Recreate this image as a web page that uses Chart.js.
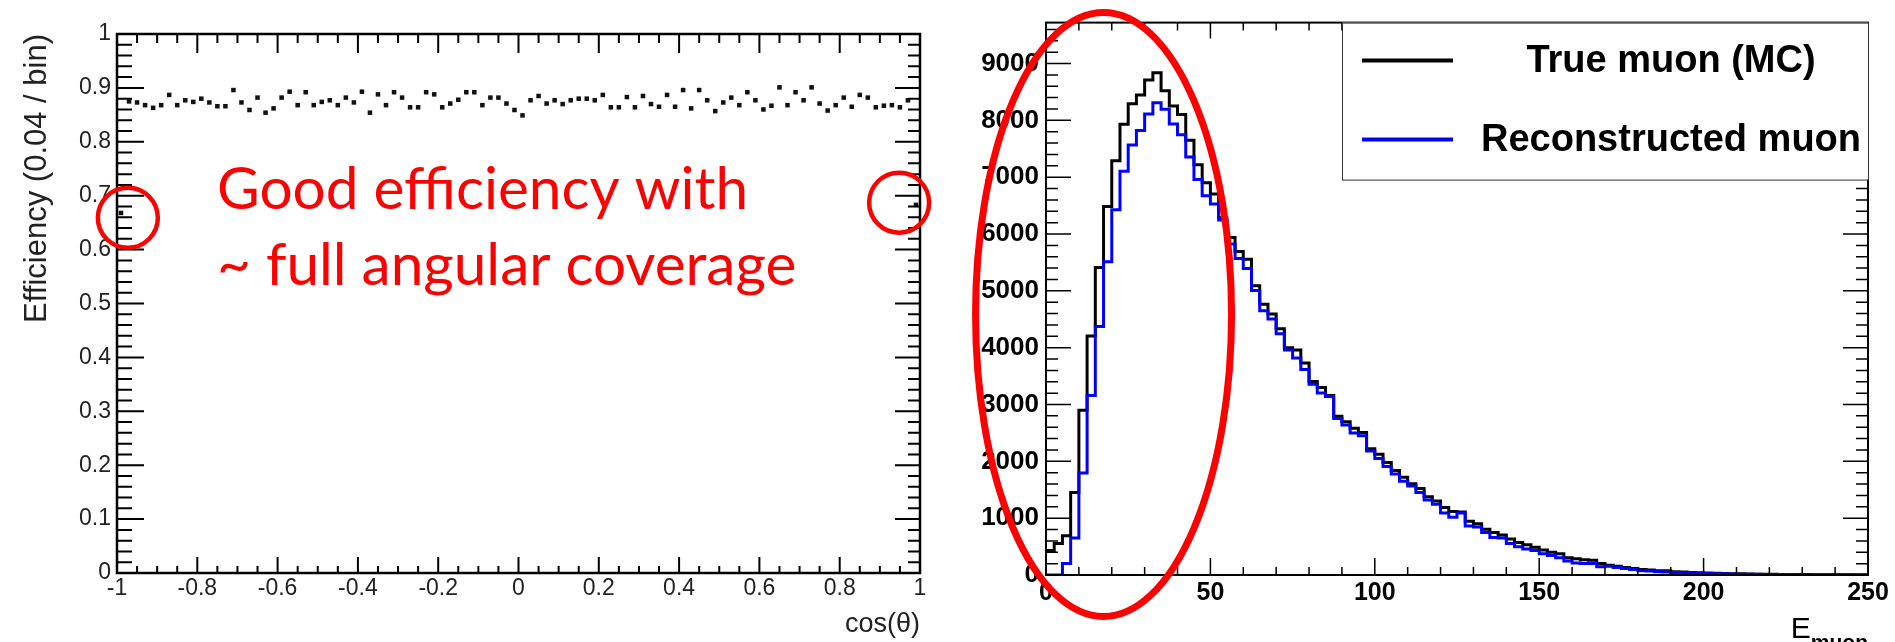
<!DOCTYPE html>
<html>
<head>
<meta charset="utf-8">
<title>Muon efficiency and energy</title>
<script src="https://cdn.jsdelivr.net/npm/chart.js@4/dist/chart.umd.min.js"></script>
<style>
  html, body { margin: 0; padding: 0; background: #fff; }
  .panel { position: absolute; top: 0; height: 642px; }
  #left-panel { left: 0; width: 960px; }
  #right-panel { left: 960px; width: 935px; }
</style>
</head>
<body>
<div class="panel" id="left-panel"><canvas id="effChart"></canvas></div>
<div class="panel" id="right-panel"><canvas id="energyChart"></canvas></div>
<script>
// efficiency vs cos(theta): 100 bins from -1 to 1
const cosMin = -1;
const cosMax = 1;
const cosBinWidth = 0.02;
const efficiency = [
  0.668, 0.875, 0.873, 0.868, 0.863, 0.868, 0.887, 0.868, 0.877, 0.874,
  0.880, 0.873, 0.866, 0.866, 0.896, 0.873, 0.859, 0.882, 0.854, 0.862,
  0.882, 0.893, 0.868, 0.892, 0.868, 0.874, 0.877, 0.868, 0.882, 0.873,
  0.893, 0.854, 0.888, 0.868, 0.892, 0.882, 0.864, 0.864, 0.892, 0.888,
  0.864, 0.871, 0.878, 0.892, 0.892, 0.868, 0.882, 0.882, 0.871, 0.859,
  0.849, 0.877, 0.885, 0.871, 0.877, 0.870, 0.877, 0.880, 0.880, 0.877,
  0.887, 0.864, 0.864, 0.883, 0.864, 0.885, 0.870, 0.865, 0.887, 0.865,
  0.896, 0.862, 0.896, 0.877, 0.857, 0.873, 0.882, 0.868, 0.892, 0.877,
  0.860, 0.867, 0.901, 0.868, 0.892, 0.877, 0.901, 0.871, 0.858, 0.868,
  0.882, 0.865, 0.887, 0.882, 0.864, 0.867, 0.868, 0.864, 0.877, 0.683
];

// muon energy: 100 bins of 2.5 from 0 to 250
const eMin = 0;
const eMax = 250;
const eBinWidth = 2.5;
const seriesLabels = ['True muon (MC)', 'Reconstructed muon'];
const trueMuon = [
  430, 556, 689, 1451, 2898, 4207, 5412, 6486, 7289, 7932,
  8293, 8448, 8712, 8838, 8523, 8253, 8104, 7650, 7220, 6904,
  6703, 6284, 5940, 5694, 5556, 5091, 4764, 4592, 4333, 4000,
  3960, 3731, 3404, 3300, 3157, 2795, 2698, 2583, 2508, 2221,
  2123, 1980, 1837, 1722, 1607, 1521, 1377, 1303, 1188, 1119,
  1107, 947, 901, 804, 746, 706, 632, 574, 534, 487,
  442, 401, 373, 305, 287, 270, 258, 201, 172, 155,
  132, 115, 98, 86, 74, 74, 55, 52, 45, 40,
  35, 30, 28, 24, 20, 18, 15, 13, 11, 10,
  9, 8, 7, 6, 6, 5, 4, 4, 3, 3
];
const recoMuon = [
  0, 0, 201, 649, 1796, 3157, 4373, 5510, 6428, 7105,
  7565, 7823, 8110, 8311, 8196, 7937, 7748, 7357, 6961, 6675,
  6526, 6245, 5825, 5567, 5395, 5005, 4649, 4506, 4247, 3960,
  3817, 3616, 3357, 3202, 3139, 2755, 2640, 2497, 2450, 2181,
  2049, 1911, 1779, 1648, 1567, 1452, 1320, 1245, 1090, 1016,
  1090, 861, 844, 746, 660, 649, 556, 499, 459, 430,
  373, 344, 305, 246, 212, 201, 201, 143, 155, 132,
  115, 98, 74, 69, 57, 52, 45, 40, 35, 30,
  26, 22, 20, 18, 15, 13, 11, 10, 9, 8,
  7, 6, 5, 5, 4, 4, 3, 3, 2, 2
];
const energyMax = 9720;
const energyStep = 1000;

const effPoints = efficiency.map((v, i) => ({ x: cosMin + cosBinWidth * (i + 0.5), y: v }));

function histPoints(counts) {
    const pts = counts.map((v, i) => ({ x: eMin + eBinWidth * i, y: v }));
    pts.push({ x: eMin + eBinWidth * counts.length, y: counts[counts.length - 1] });
    return pts;
}

function fmt(v) {
    return String(Number(v.toFixed(2)));
}

// ROOT style frame with inward major/minor ticks on all four sides
const rootAxes = {
    id: 'rootAxes',
    afterDatasetsDraw(chart, args, o) {
        const { ctx, chartArea: a } = chart;
        const xs = chart.scales.x, ys = chart.scales.y;
        ctx.save();
        ctx.strokeStyle = '#000';
        ctx.lineWidth = o.tickWidth;
        ctx.beginPath();
        for (let k = 0; ; k++) {
            const v = xs.min + k * o.x.minor;
            if (v > xs.max + o.x.minor * 1e-6) break;
            const p = xs.getPixelForValue(v);
            const major = k % o.x.every === 0;
            ctx.moveTo(p, a.bottom);
            ctx.lineTo(p, a.bottom - (major ? o.x.bottom[0] : o.x.bottom[1]));
            ctx.moveTo(p, a.top);
            ctx.lineTo(p, a.top + (major ? o.x.top[0] : o.x.top[1]));
        }
        for (let k = 0; ; k++) {
            const v = ys.min + k * o.y.minor;
            if (v > ys.max + o.y.minor * 1e-6) break;
            const p = ys.getPixelForValue(v);
            const major = k % o.y.every === 0;
            ctx.moveTo(a.left, p);
            ctx.lineTo(a.left + (major ? o.y.left[0] : o.y.left[1]), p);
            ctx.moveTo(a.right, p);
            ctx.lineTo(a.right - (major ? o.y.right[0] : o.y.right[1]), p);
        }
        ctx.stroke();
        ctx.lineWidth = o.frameWidth;
        ctx.strokeRect(a.left, a.top, a.right - a.left, a.bottom - a.top);
        ctx.restore();
    }
};

// red remarks on the efficiency plot
const effNotes = {
    id: 'effNotes',
    afterDraw(chart) {
        const { ctx, chartArea: a, scales: { x, y } } = chart;
        ctx.save();
        ctx.fillStyle = '#ff0000';
        ctx.strokeStyle = '#ff0000';
        ctx.font = '58.5px Lato';
        ctx.textAlign = 'left';
        ctx.textBaseline = 'alphabetic';
        ctx.fillText('Good efficiency with', a.left + 100, a.top + 175);
        ctx.fillText('~ full angular coverage', a.left + 100, a.top + 251);
        ctx.lineWidth = 4.5;
        [[-0.973, 0.659], [0.948, 0.687]].forEach(([cx, cy]) => {
            ctx.beginPath();
            ctx.arc(x.getPixelForValue(cx), y.getPixelForValue(cy), 30, 0, Math.PI * 2);
            ctx.stroke();
        });
        ctx.restore();
    }
};

// legend box, E_muon axis title and the red ellipse on the energy plot
const energyNotes = {
    id: 'energyNotes',
    afterDraw(chart) {
        const { ctx, chartArea: a, scales: { x, y } } = chart;
        ctx.save();

        // legend
        const bx = a.right - 526, by = a.top, bw = 526, bh = 157;
        ctx.fillStyle = '#fff';
        ctx.fillRect(bx, by, bw, bh);
        ctx.strokeStyle = '#333';
        ctx.lineWidth = 1;
        ctx.strokeRect(bx + 0.5, by + 0.5, bw, bh);
        ctx.font = 'bold 38px "Liberation Sans", Arial, sans-serif';
        ctx.textAlign = 'center';
        ctx.textBaseline = 'alphabetic';
        chart.data.datasets.forEach((ds, i) => {
            const ly = by + 38 + i * 79;
            ctx.strokeStyle = ds.borderColor;
            ctx.lineWidth = 4;
            ctx.beginPath();
            ctx.moveTo(bx + 20, ly);
            ctx.lineTo(bx + 111, ly);
            ctx.stroke();
            ctx.fillStyle = '#000';
            ctx.fillText(ds.label, bx + 329, ly + 11);
        });

        // axis title with subscript
        ctx.fillStyle = '#000';
        ctx.textAlign = 'left';
        ctx.font = 'bold 21px "Liberation Sans", Arial, sans-serif';
        const subW = ctx.measureText('muon').width;
        ctx.font = '30px "Liberation Sans", Arial, sans-serif';
        const eW = ctx.measureText('E').width;
        ctx.fillText('E', a.right - subW - eW, a.bottom + 63);
        ctx.font = 'bold 21px "Liberation Sans", Arial, sans-serif';
        ctx.fillText('muon', a.right - subW, a.bottom + 74);

        // red ellipse round the low energy region
        ctx.strokeStyle = '#ff0000';
        ctx.lineWidth = 7;
        ctx.beginPath();
        ctx.ellipse(x.getPixelForValue(17.5), y.getPixelForValue(4584), 128, 302, 0, 0, Math.PI * 2);
        ctx.stroke();
        ctx.restore();
    }
};

const leftFont = '"Liberation Sans", Arial, sans-serif';

new Chart(document.getElementById('effChart'), {
    type: 'scatter',
    data: {
        datasets: [{
            data: effPoints,
            pointStyle: 'rect',
            pointRadius: 3.2,
            backgroundColor: '#111',
            borderWidth: 0
        }]
    },
    options: {
        responsive: true,
        maintainAspectRatio: false,
        animation: false,
        events: [],
        layout: { padding: { left: 0, top: 34, right: 40, bottom: 0 } },
        plugins: {
            legend: { display: false },
            tooltip: { enabled: false },
            rootAxes: {
                tickWidth: 2, frameWidth: 2.5,
                x: { minor: 0.05, every: 4, bottom: [16, 7], top: [19, 9] },
                y: { minor: 0.02, every: 5, left: [27, 15], right: [25, 12] }
            }
        },
        scales: {
            x: {
                type: 'linear', min: cosMin, max: cosMax,
                grid: { display: false, drawTicks: false },
                border: { display: false },
                ticks: {
                    stepSize: 0.2, padding: 2, autoSkip: false, maxRotation: 0,
                    color: '#222', font: { family: leftFont, size: 23 },
                    callback: v => fmt(v)
                },
                title: {
                    display: true, text: 'cos(θ)', align: 'end', color: '#222',
                    font: { family: leftFont, size: 27 }, padding: { top: 0, bottom: 1 }
                },
                afterFit: s => { s.height = 69; }
            },
            y: {
                type: 'linear', min: 0, max: 1,
                grid: { display: false, drawTicks: false },
                border: { display: false },
                ticks: {
                    stepSize: 0.1, padding: 6, autoSkip: false,
                    color: '#222', font: { family: leftFont, size: 23 },
                    callback: v => fmt(v)
                },
                title: {
                    display: true, text: 'Efficiency (0.04 / bin)', align: 'end', color: '#222',
                    font: { family: leftFont, size: 31 }, padding: { top: 19, bottom: 0 }
                },
                afterFit: s => { s.width = 117; }
            }
        }
    },
    plugins: [rootAxes, effNotes]
});

new Chart(document.getElementById('energyChart'), {
    type: 'line',
    data: {
        datasets: [
            {
                label: seriesLabels[0], data: histPoints(trueMuon),
                borderColor: '#000', borderWidth: 3, stepped: 'before',
                pointRadius: 0, fill: false, order: 2,
                borderJoinStyle: 'miter', borderCapStyle: 'butt'
            },
            {
                label: seriesLabels[1], data: histPoints(recoMuon),
                borderColor: '#0000ff', borderWidth: 3, stepped: 'before',
                pointRadius: 0, fill: false, order: 1,
                borderJoinStyle: 'miter', borderCapStyle: 'butt'
            }
        ]
    },
    options: {
        responsive: true,
        maintainAspectRatio: false,
        animation: false,
        events: [],
        layout: { padding: { left: 0, top: 11, right: 27, bottom: 0 } },
        plugins: {
            legend: { display: false },
            tooltip: { enabled: false },
            rootAxes: {
                tickWidth: 1.5, frameWidth: 2,
                x: { minor: 10, every: 5, bottom: [17, 8], top: [16, 8] },
                y: { minor: 200, every: 5, left: [25, 12], right: [25, 12] }
            }
        },
        scales: {
            x: {
                type: 'linear', min: eMin, max: eMax,
                grid: { display: false, drawTicks: false },
                border: { display: false },
                ticks: {
                    stepSize: 50, padding: 3, autoSkip: false, maxRotation: 0,
                    color: '#000', font: { family: leftFont, size: 25, weight: 'bold' },
                    callback: v => String(v)
                },
                afterFit: s => { s.height = 67; }
            },
            y: {
                type: 'linear', min: 0, max: energyMax,
                grid: { display: false, drawTicks: false },
                border: { display: false },
                ticks: {
                    padding: 7, autoSkip: false,
                    color: '#000', font: { family: leftFont, size: 26, weight: 'bold' },
                    callback: v => String(v)
                },
                // whole thousands only, the axis top is not a round number
                afterBuildTicks: s => {
                    const ticks = [];
                    for (let v = 0; v <= s.max; v += energyStep) ticks.push({ value: v });
                    s.ticks = ticks;
                },
                afterFit: s => { s.width = 86; }
            }
        }
    },
    plugins: [rootAxes, energyNotes]
});
</script>
</body>
</html>
